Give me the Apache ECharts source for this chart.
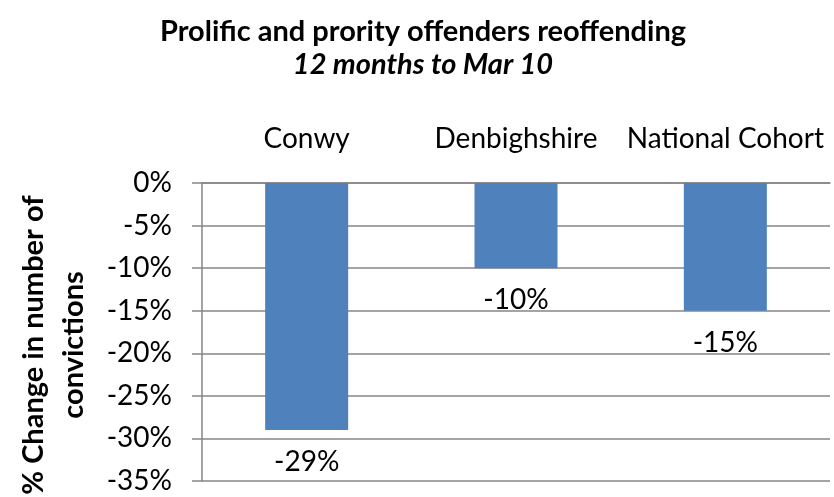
<!DOCTYPE html>
<html><head><meta charset="utf-8">
<script src="https://cdn.jsdelivr.net/npm/echarts@6/dist/echarts.min.js"></script>
<style>html,body{margin:0;padding:0;background:#fff}#c{width:834px;height:497px}</style>
</head><body><div id="c"></div>
<script>
const categories = ['Conwy', 'Denbighshire', 'National Cohort'];
const changeValues = [-29, -10, -15];
const yMin = -35, yMax = 0, yStep = 5;

const chart = echarts.init(document.getElementById('c'));
const FONT = 'Lato';
chart.setOption({
  animation: false,
  backgroundColor: '#fff',
  title: {
    text: 'Prolific and prority offenders reoffending',
    subtext: '12 months to Mar 10',
    left: 418, textAlign: 'center', top: 12,
    textStyle: {fontFamily: FONT, fontWeight: 'bold', fontSize: 29, color: '#000'},
    subtextStyle: {fontFamily: FONT, fontWeight: 'bold', fontStyle: 'italic', fontSize: 29, color: '#000'},
    itemGap: 4
  },
  grid: {left: 202, right: 4, top: 183, bottom: 16, containLabel: false, outerBoundsMode: 'none'},
  xAxis: {
    type: 'category', position: 'top', data: categories,
    axisLine: {lineStyle: {color: '#868686', width: 1.5}},
    axisTick: {inside: true, length: 8, lineStyle: {color: '#868686', width: 1.5}},
    axisLabel: {fontFamily: FONT, fontSize: 28, color: '#000', margin: 30, interval: 0, hideOverlap: false}
  },
  yAxis: {
    type: 'value', min: yMin, max: yMax, interval: yStep,
    name: '% Change in number of\nconvictions', nameLocation: 'middle', nameGap: 108,
    nameTextStyle: {fontFamily: FONT, fontWeight: 'bold', fontSize: 29, color: '#000', lineHeight: 40, padding: [0, 26, 0, 0]},
    axisLine: {show: true, lineStyle: {color: '#868686', width: 1.5}},
    axisTick: {show: true, length: 10, lineStyle: {color: '#868686', width: 1.5}},
    axisLabel: {fontFamily: FONT, fontSize: 28, color: '#000', margin: 30, formatter: v => v + '%'},
    splitLine: {lineStyle: {color: '#868686', width: 1.5}}
  },
  series: [{
    type: 'bar', data: changeValues, barWidth: 83,
    itemStyle: {color: '#4F81BD'},
    label: {show: true, position: 'bottom', distance: 18, fontFamily: FONT, fontSize: 28, color: '#000', formatter: p => p.value + '%'}
  }]
});
</script></body></html>
